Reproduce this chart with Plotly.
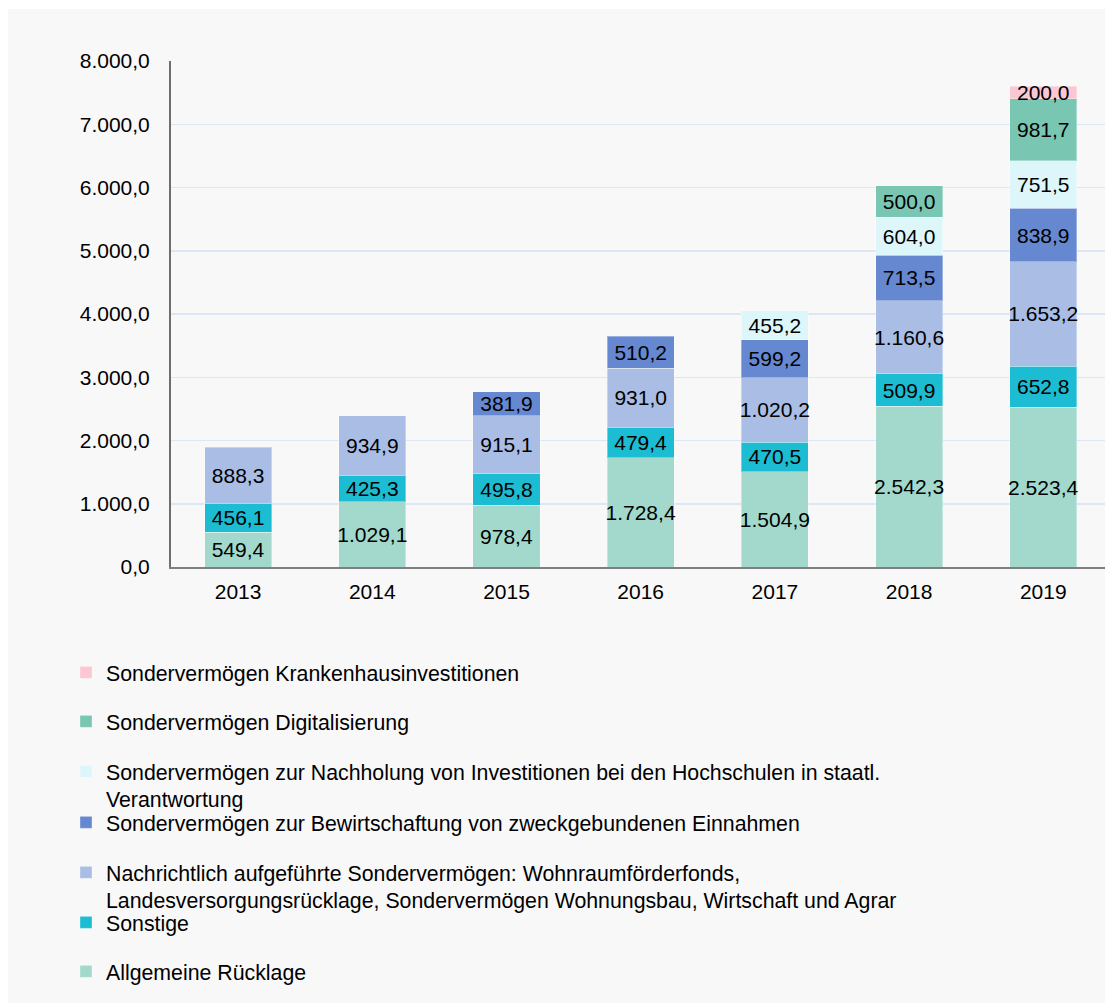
import plotly.graph_objects as go

years = ["2013", "2014", "2015", "2016", "2017", "2018", "2019"]

allgemeine = [549.4, 1029.1, 978.4, 1728.4, 1504.9, 2542.3, 2523.4]
sonstige = [456.1, 425.3, 495.8, 479.4, 470.5, 509.9, 652.8]
nachrichtlich = [888.3, 934.9, 915.1, 931.0, 1020.2, 1160.6, 1653.2]
bewirtschaftung = [None, None, 381.9, 510.2, 599.2, 713.5, 838.9]
nachholung = [None, None, None, None, 455.2, 604.0, 751.5]
digitalisierung = [None, None, None, None, None, 500.0, 981.7]
krankenhaus = [None, None, None, None, None, None, 200.0]

y_ticks = [0, 1000, 2000, 3000, 4000, 5000, 6000, 7000, 8000]

series = [
    ("Allgemeine Rücklage", allgemeine, "#a3d9cc"),
    ("Sonstige", sonstige, "#1cbcd2"),
    ("Nachrichtlich aufgeführte Sondervermögen: Wohnraumförderfonds,<br>"
     "Landesversorgungsrücklage, Sondervermögen Wohnungsbau, Wirtschaft und Agrar",
     nachrichtlich, "#a9bde5"),
    ("Sondervermögen zur Bewirtschaftung von zweckgebundenen Einnahmen",
     bewirtschaftung, "#6688d0"),
    ("Sondervermögen zur Nachholung von Investitionen bei den Hochschulen in staatl.<br>"
     "Verantwortung", nachholung, "#ddf6fa"),
    ("Sondervermögen Digitalisierung", digitalisierung, "#79c6b3"),
    ("Sondervermögen Krankenhausinvestitionen", krankenhaus, "#fbc7d3"),
]

FONT = "Liberation Sans, Arial, sans-serif"

# figure geometry in page pixels (body margin removed)
W, H = 1105, 1003
PL, PT, PB = 171, 61, 567
PW = W - PL
PH = PB - PT

def px_x(p):
    return (p - PL) / PW

def px_y(p):
    return (PB - p) / PH

# legend first-line centres (pixels), in series order
legend_centres = [972, 923, 873, 823, 772, 722, 673]

fig = go.Figure()
legend_layout = {}
for i, (name, vals, color) in enumerate(series):
    lname = "legend" if i == 0 else f"legend{i + 1}"
    fig.add_trace(go.Bar(
        x=years, y=vals, name=name,
        marker=dict(color=color, line=dict(color="rgba(255,255,255,0.35)", width=1)),
        texttemplate="%{y:,.1f}",
        textposition="inside",
        insidetextanchor="middle",
        textangle=0,
        constraintext="none",
        textfont=dict(family=FONT, size=21, color="#000000"),
        legend=lname,
        hoverinfo="skip",
    ))
    legend_layout[lname] = dict(
        x=px_x(66), xanchor="left",
        y=px_y(legend_centres[i] - 21), yanchor="top",
        bgcolor="rgba(0,0,0,0)",
        font=dict(family=FONT, size=21.3, color="#000000"),
        valign="top",
        borderwidth=0,
    )

fig.update_layout(
    width=W, height=H,
    margin=dict(l=PL, r=0, t=PT, b=H - PB, pad=0),
    barmode="stack",
    bargap=0.5,
    separators=",.",
    paper_bgcolor="#ffffff",
    plot_bgcolor="rgba(0,0,0,0)",
    font=dict(family=FONT, size=21, color="#000000"),
    showlegend=True,
    hovermode=False,
    **legend_layout,
)

# light grey chart panel (white frame on the top and left edges)
fig.add_shape(
    type="rect", xref="paper", yref="paper",
    x0=px_x(8), x1=1.0, y0=px_y(H), y1=px_y(9),
    fillcolor="#f8f8f8", line=dict(width=0), layer="below",
)

fig.update_xaxes(
    type="category",
    range=[-0.5, 6.46],
    showline=True, linecolor="#7f7f7f", linewidth=2,
    showgrid=False,
    ticks="",
    tickfont=dict(family=FONT, size=21, color="#000000"),
    ticklabelstandoff=5,
)
fig.update_yaxes(
    range=[0, 8000],
    tickvals=y_ticks,
    tickformat=",.1f",
    showline=True, linecolor="#6e6e6e", linewidth=2,
    showgrid=True, gridcolor="#dce6f4", gridwidth=1.5,
    zeroline=False,
    ticks="",
    tickfont=dict(family=FONT, size=21, color="#000000"),
    ticklabelstandoff=15,
)

fig.write_html(
    "out.html",
    config={"displayModeBar": False, "staticPlot": True},
    post_script="document.body.style.margin='0';"
                "document.documentElement.style.overflow='hidden';"
                "document.body.style.overflow='hidden';",
)
